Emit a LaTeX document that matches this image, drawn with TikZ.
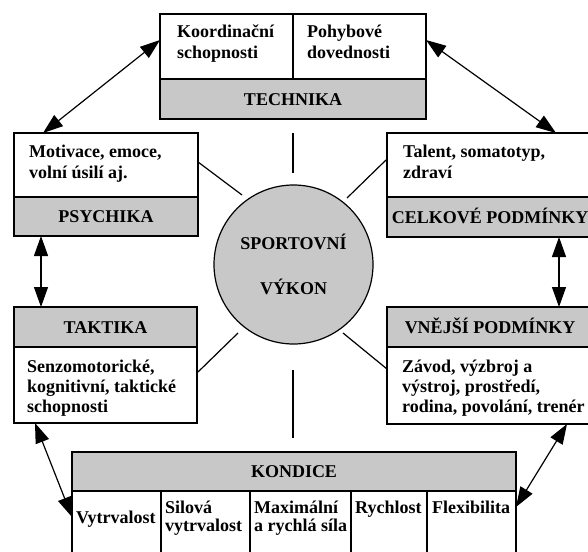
\documentclass[tikz,border=0pt]{standalone}
\usepackage{fontspec}
\setmainfont{Liberation Serif}
\usetikzlibrary{arrows.meta}
\definecolor{bandgray}{RGB}{200,200,200}
\newcommand\bftext{\bfseries\fontsize{18}{21}\selectfont}
\begin{document}
\begin{tikzpicture}[x=1pt,y=-1pt,
  cell/.style={draw=black, line width=1.2pt, inner sep=0pt, outer sep=0pt, anchor=north west, fill=white},
  band/.style={cell, fill=bandgray, font=\bftext, text height=12pt, text depth=0pt},
  txt/.style={anchor=base west, inner sep=0pt, align=left, font=\bftext},
  spoke/.style={line width=1.2pt},
  arr/.style={line width=1.2pt, {Triangle[length=20pt,width=14pt]}-{Triangle[length=20pt,width=14pt]}}]
\useasboundingbox (0,0) rectangle (588,551);
\clip (0,0) rectangle (588,551);
% TECHNIKA
\node[cell, minimum width=133pt, minimum height=65pt] (tk1) at (160,14) {};
\node[cell, minimum width=133pt, minimum height=65pt] (tk2) at (293,14) {};
\node[band, minimum width=266pt, minimum height=40pt] (tkg) at (160,79) {TECHNIKA};
\node[txt] (tk1t) at (177,59) {Koordinační\\schopnosti};
\node[txt] (tk2t) at (307,59) {Pohybové\\dovednosti};
% PSYCHIKA
\node[cell, minimum width=184pt, minimum height=64pt] (ps1) at (14,133) {};
\node[band, minimum width=184pt, minimum height=39pt] (ps2) at (14,197) {PSYCHIKA};
\node[txt] (ps1t) at (29,178) {Motivace, emoce,\\volní úsilí aj.};
% CELKOVE
\node[cell, minimum width=206pt, minimum height=64pt] (cp1) at (387,133) {};
\node[band, minimum width=206pt, minimum height=40pt] (cp2) at (387,197) {CELKOVÉ PODMÍNKY};
\node[txt] (cp1t) at (403,178) {Talent, somatotyp,\\zdraví};
% TAKTIKA
\node[band, minimum width=183pt, minimum height=40pt] (ta1) at (14,307) {TAKTIKA};
\node[cell, minimum width=183pt, minimum height=76pt] (ta2) at (14,347) {};
\node[txt, font=\bfseries\fontsize{18}{20}\selectfont] (ta2t) at (27,412) {Senzomotorické,\\kognitivní, taktické\\schopnosti};
% VNEJSI
\node[band, minimum width=206pt, minimum height=40pt] (vn1) at (387,307) {VNĚJŠÍ PODMÍNKY};
\node[cell, minimum width=206pt, minimum height=77pt] (vn2) at (387,347) {};
\node[txt, font=\bfseries\fontsize{18}{20}\selectfont] (vn2t) at (402,412) {Závod, výzbroj a\\výstroj, prostředí,\\rodina, povolání, trenér};
% KONDICE
\node[band, minimum width=444pt, minimum height=39pt] (kg) at (72,452) {KONDICE};
\node[cell, minimum width=89pt, minimum height=65pt] (kc1) at (72,491) {};
\node[cell, minimum width=89pt, minimum height=65pt] (kc2) at (161,491) {};
\node[cell, minimum width=101pt, minimum height=65pt] (kc3) at (250,491) {};
\node[cell, minimum width=76pt, minimum height=65pt] (kc4) at (351,491) {};
\node[cell, minimum width=89pt, minimum height=65pt] (kc5) at (427,491) {};
\node[txt] (kc1t) at (76,523) {Vytrvalost};
\node[txt, font=\bfseries\fontsize{18}{18.5}\selectfont] (kc2t) at (165,531.5) {Silová\\vytrvalost};
\node[txt, font=\bfseries\fontsize{18}{18.5}\selectfont] (kc3t) at (254,531.5) {Maximální\\a rychlá síla};
\node[txt] (kc4t) at (355,513) {Rychlost};
\node[txt] (kc5t) at (432,513) {Flexibilita};
% centre
\node[circle, draw=black, line width=1.2pt, fill=bandgray, minimum size=159pt, inner sep=0pt, align=center,
      font=\bfseries\fontsize{18}{45}\selectfont] (sv) at (293.5,264.5) {SPORTOVNÍ\\VÝKON};
% spokes
\coordinate (s1a) at (198,162); \coordinate (s1b) at (242,195);
\coordinate (s2a) at (386,160); \coordinate (s2b) at (347,198);
\coordinate (s3a) at (198,372); \coordinate (s3b) at (238,333);
\coordinate (s4a) at (387,369); \coordinate (s4b) at (343,333);
\coordinate (s5a) at (293,133); \coordinate (s5b) at (293,173);
\coordinate (s6a) at (293,370); \coordinate (s6b) at (293,438);
\draw[spoke] (s1a) -- (s1b);
\draw[spoke] (s2a) -- (s2b);
\draw[spoke] (s3a) -- (s3b);
\draw[spoke] (s4a) -- (s4b);
\draw[spoke] (s5a) -- (s5b);
\draw[spoke] (s6a) -- (s6b);
% arrows
\draw[arr] ([xshift=29pt]ps1.north west) -- ([yshift=-26pt]tk1.north west);
\draw[arr] ([yshift=-26pt]tk2.north east) -- ([xshift=169pt]cp1.north west);
\draw[arr] ([xshift=27pt]ps2.south west) -- ([xshift=27pt]ta1.north west);
\draw[arr] ([xshift=172pt]cp2.south west) -- ([xshift=172pt]vn1.north west);
\draw[arr] ([xshift=21pt]ta2.south west) -- ([yshift=-26pt]kc1.north west);
\draw[arr] ([xshift=180pt]vn2.south west) -- ([yshift=-16pt]kc5.north east);
\end{tikzpicture}
\end{document}
